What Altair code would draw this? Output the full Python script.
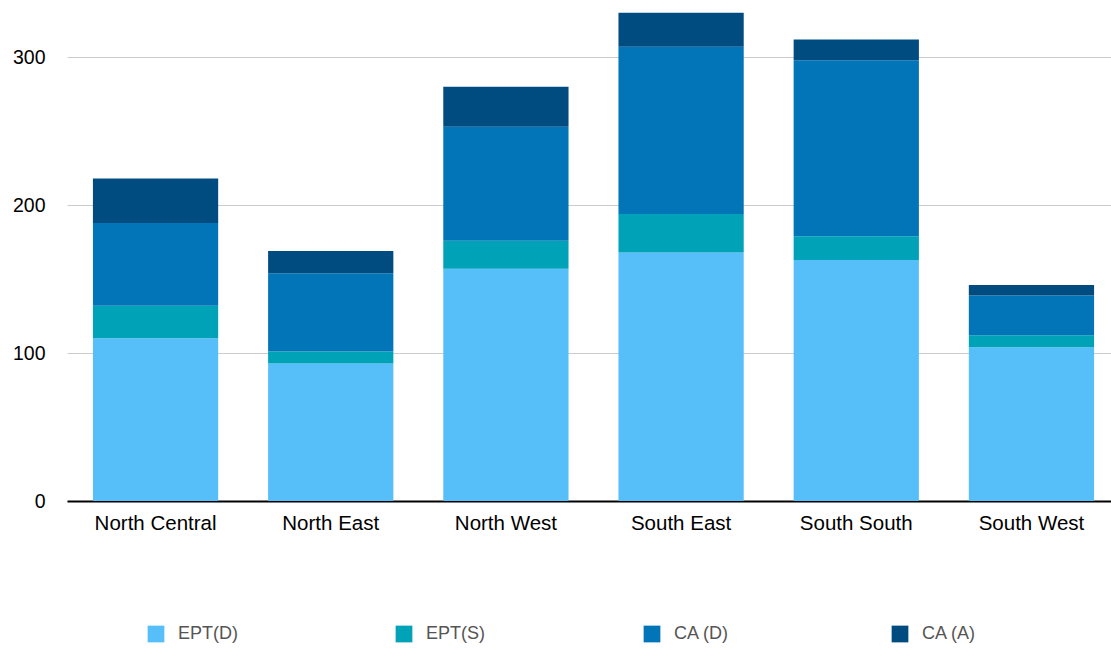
import altair as alt
import pandas as pd

# Zones and stacked component values
zones = ["North Central", "North East", "North West", "South East", "South South", "South West"]
series = ["EPT(D)", "EPT(S)", "CA (D)", "CA (A)"]
ept_d = [110, 93, 157, 168, 163, 104]
ept_s = [22, 8, 19, 26, 16, 8]
ca_d = [56, 53, 77, 113, 119, 27]
ca_a = [30, 15, 27, 23, 14, 7]
colors = ["#56BFF9", "#00A2B8", "#0274B8", "#004C80"]

rows = []
for i, zone in enumerate(zones):
    for k, (name, vals) in enumerate(zip(series, [ept_d, ept_s, ca_d, ca_a])):
        rows.append({"zone": zone, "series": name, "value": vals[i], "order": k})
df = pd.DataFrame(rows)

FONT = "Liberation Sans"

chart = (
    alt.Chart(df)
    .mark_bar()
    .encode(
        x=alt.X(
            "zone:N",
            sort=zones,
            title=None,
            scale=alt.Scale(range=[0, 1053], paddingInner=0.285, paddingOuter=0.148),
            axis=alt.Axis(
                labelAngle=0,
                labelFontSize=20.5,
                labelColor="#000000",
                labelFont=FONT,
                labelPadding=12,
                ticks=False,
                domainColor="#000000",
                domainWidth=2,
            ),
        ),
        y=alt.Y(
            "value:Q",
            stack="zero",
            title=None,
            scale=alt.Scale(domain=[0, 338], nice=False),
            axis=alt.Axis(
                values=[0, 100, 200, 300],
                labelFontSize=19.5,
                labelColor="#000000",
                labelFont=FONT,
                labelPadding=22,
                ticks=False,
                domain=False,
                gridColor="#cccccc",
                gridWidth=1,
            ),
        ),
        color=alt.Color(
            "series:N",
            sort=series,
            scale=alt.Scale(domain=series, range=colors),
            legend=alt.Legend(
                title=None,
                orient="none",
                direction="horizontal",
                columns=4,
                legendX=80,
                legendY=624,
                symbolType="square",
                symbolSize=280,
                symbolStrokeWidth=0,
                labelFontSize=18,
                labelFont=FONT,
                labelColor="#555555",
                labelOffset=13,
                columnPadding=157,
                gridAlign="all",
            ),
        ),
        order=alt.Order("order:Q", sort="ascending"),
    )
    .properties(
        width=1044,
        height=500,
        autosize=alt.AutoSizeParams(type="none"),
        padding={"left": 67, "top": 1, "right": 0, "bottom": 147},
        background="#ffffff",
    )
    .configure_view(stroke=None)
)

chart.save("out.html", embed_options={"renderer": "svg", "actions": False})
